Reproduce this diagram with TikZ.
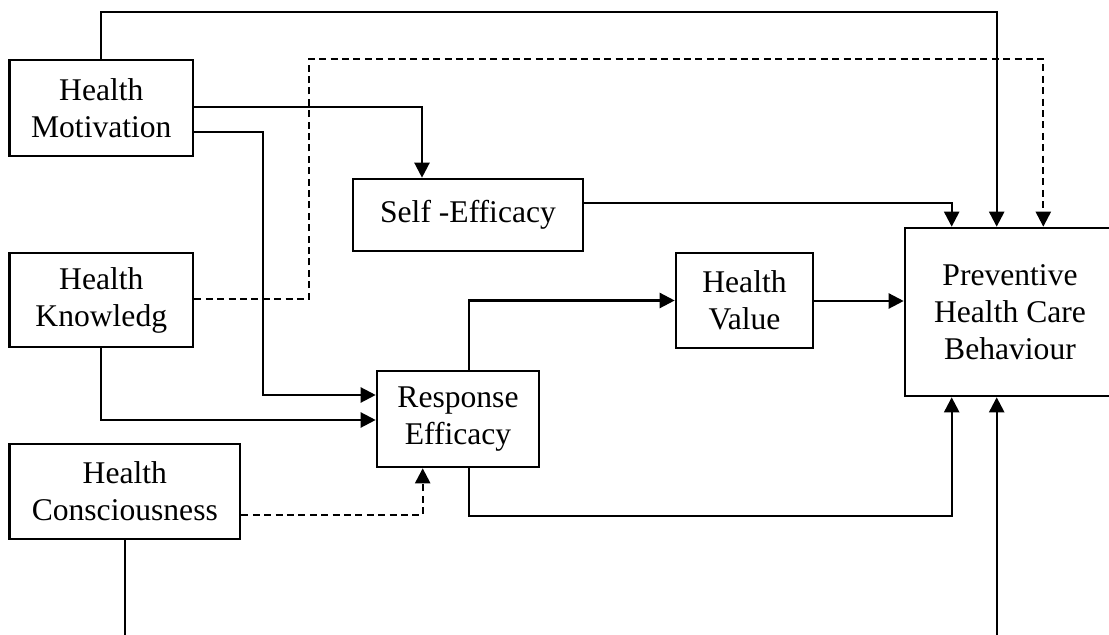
\documentclass[tikz,border=0pt]{standalone}
\usepackage{fontspec}
\setmainfont{Liberation Serif}
\usetikzlibrary{arrows.meta}
\begin{document}
\begin{tikzpicture}[x=0.5pt,y=-0.5pt,
  box/.style={draw,line width=1.3pt,inner sep=0pt,align=center,
    font=\fontsize{15.8}{18.5}\selectfont},
  arr/.style={line width=1.15pt,-{Triangle[length=7.5pt,width=7.5pt]}},
  dsh/.style={dash pattern=on 3.5pt off 2.2pt}]
\clip (0,0) rectangle (1109,635);

% factors
\node[box,minimum width=91.75pt,minimum height=48pt] (mot) at (101.3,108) {Health\\Motivation};
\node[box,minimum width=91.75pt,minimum height=47pt] (kno) at (101.3,300) {Health\\Knowledg};
\node[box,minimum width=115.25pt,minimum height=47.5pt] (con) at (124.8,491.5) {Health\\Consciousness};
\node[box,minimum width=115pt,minimum height=36pt] (se) at (468,215) {Self -Efficacy};
\node[box,minimum width=68.5pt,minimum height=47.5pt] (hv) at (744.5,300.5) {Health\\Value};
\node[box,minimum width=81pt,minimum height=48pt] (re) at (458,419) {Response\\Efficacy};
\node[box,minimum width=105pt,minimum height=84pt] (phcb) at (1010,312) {Preventive\\Health Care\\Behaviour};

% paths into the outcome
\draw[arr] (mot.north) -- (mot.north |- 0,11.7) -| (phcb.north -| 996.7,0);
\draw[arr,dsh] (kno.east |- 0,299) -| (309,59) -| (phcb.north -| 1043.3,0);
\draw[arr] (se.east |- 0,203) -| (phcb.north -| 951.7,0);
\draw[arr] (hv.east |- 0,301) -- (phcb.west |- 0,301);
\draw[arr] (re.south -| 469,0) -- (469,516) -| (phcb.south -| 951.7,0);
\draw[arr] (con.south) -- (con.south |- 0,645) -| (phcb.south -| 996.7,0);

% paths into the mediators
\draw[arr] (mot.east |- 0,107) -| (se.north -| 422,0);
\draw[arr] (mot.east |- 0,132) -| (263,395) -- (re.west |- 0,395);
\draw[arr] (kno.south) |- (re.west |- 0,420);
\draw[arr,dsh] (con.east |- 0,515) -| (re.south -| 422.7,0);
\draw[arr] (re.north -| 469,0) |- (hv.west);
\end{tikzpicture}
\end{document}
